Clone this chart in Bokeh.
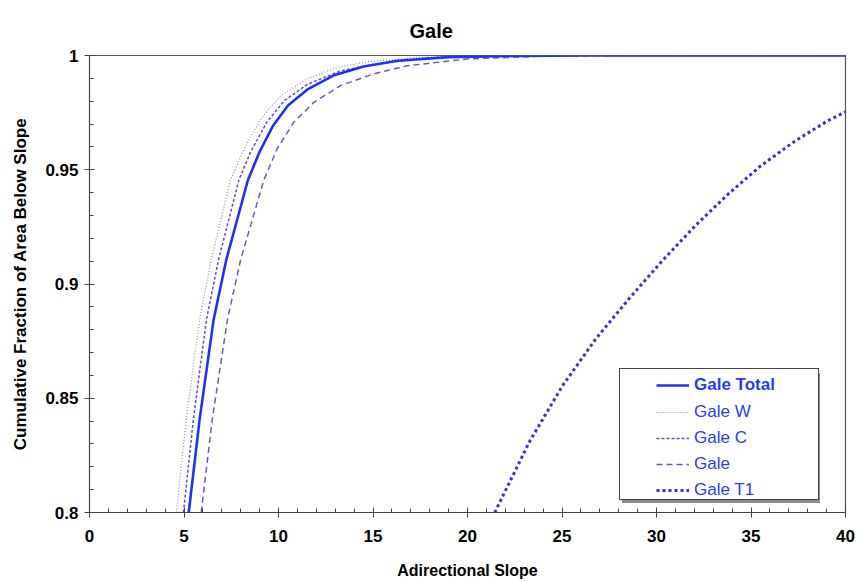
from bokeh.plotting import figure
from bokeh.models import Legend, LegendItem, Range1d, FixedTicker, CustomJSTickFormatter
from bokeh.embed import file_html
from bokeh.resources import INLINE

# ---- data ----
total_x = [5.25, 5.83, 6.57, 7.24, 8.38, 8.99, 9.72, 10.50, 11.56, 12.90, 14.50, 16.30, 19.0, 22.5, 26.0, 40.0]
total_y = [0.800, 0.841, 0.8845, 0.9107, 0.9454, 0.9577, 0.9694, 0.9781, 0.9853, 0.9912, 0.9952, 0.9977, 0.9993, 0.99985, 1.0, 1.0]

w_x = [4.60, 5.12, 5.83, 6.44, 7.46, 8.18, 9.06, 10.11, 11.50, 13.10, 14.80, 17.5, 21.0, 25.0, 40.0]
w_y = [0.800, 0.841, 0.8845, 0.9107, 0.9454, 0.9592, 0.9722, 0.9824, 0.9897, 0.9948, 0.9973, 0.9992, 0.99985, 1.0, 1.0]

c_x = [4.97, 5.50, 6.19, 6.83, 7.90, 8.52, 9.38, 10.32, 11.55, 13.30, 15.10, 18.0, 22.0, 26.0, 40.0]
c_y = [0.800, 0.841, 0.8845, 0.9107, 0.9454, 0.9577, 0.9708, 0.9803, 0.9875, 0.9933, 0.9962, 0.9990, 0.9998, 1.0, 1.0]

gale_x = [5.91, 6.50, 7.30, 8.00, 9.22, 9.93, 10.81, 11.87, 13.28, 15.00, 16.80, 20.0, 24.0, 29.0, 40.0]
gale_y = [0.800, 0.841, 0.8845, 0.9107, 0.9454, 0.9592, 0.9708, 0.9795, 0.9868, 0.9919, 0.9955, 0.9985, 0.9997, 1.0, 1.0]

t1_x = [21.44, 23.28, 25.03, 26.79, 28.54, 30.29, 32.05, 33.81, 35.56, 37.32, 39.07, 40.0]
t1_y = [0.800, 0.831, 0.8555, 0.876, 0.8935, 0.910, 0.9255, 0.9395, 0.952, 0.9625, 0.9715, 0.9753]

x_ticks = [0, 5, 10, 15, 20, 25, 30, 35, 40]
x_minor = list(range(0, 41))
y_ticks = [0.80, 0.85, 0.90, 0.95, 1.00]
y_minor = [0.80 + 0.01 * i for i in range(21)]

FONT = "Liberation Sans"
BLUE_TXT = "#2a3cf0"

p = figure(width=858, height=581, output_backend="svg", toolbar_location=None,
           x_range=Range1d(0, 40), y_range=Range1d(0.8, 1.0),
           min_border_left=89, min_border_right=13, min_border_top=55, min_border_bottom=67,
           background_fill_color="white", border_fill_color="white")

p.title.text = "Gale"
p.title.align = "left"
p.title.offset = 320
p.title.text_font = FONT
p.title.text_font_size = "20px"
p.title.text_font_style = "bold"
p.title.text_color = "black"
p.title.standoff = 28

p.grid.visible = False
p.outline_line_color = "#555555"
p.outline_line_width = 1.2

for ax in (p.xaxis[0], p.yaxis[0]):
    ax.axis_line_color = "#444444"
    ax.major_tick_line_color = "#444444"
    ax.minor_tick_line_color = "#444444"
    ax.major_tick_in = 5
    ax.major_tick_out = 5
    ax.minor_tick_in = 4
    ax.minor_tick_out = 0
    ax.major_label_text_font = FONT
    ax.major_label_text_font_style = "bold"
    ax.major_label_text_font_size = "17px"
    ax.major_label_text_color = "black"
    ax.axis_label_text_font = FONT
    ax.axis_label_text_font_style = "bold"
    ax.axis_label_text_color = "black"

p.xaxis.ticker = FixedTicker(ticks=x_ticks, minor_ticks=x_minor)
p.yaxis.ticker = FixedTicker(ticks=y_ticks, minor_ticks=y_minor)
p.yaxis.formatter = CustomJSTickFormatter(code="return Number(tick.toFixed(2)).toString();")
p.xaxis.axis_label = "Adirectional Slope"
p.yaxis.axis_label = "Cumulative Fraction of Area Below Slope"
p.xaxis.axis_label_text_font_size = "16px"
p.yaxis.axis_label_text_font_size = "17px"
p.xaxis.major_label_standoff = 12
p.xaxis.axis_label_standoff = 17
p.yaxis.major_label_standoff = 6
p.yaxis.axis_label_standoff = 12

r_w = p.line(w_x, w_y, line_color="#8a8ae8", line_width=1.2, line_dash="1 2")
r_c = p.line(c_x, c_y, line_color="#5b4fd6", line_width=1.5, line_dash="3 2")
r_g = p.line(gale_x, gale_y, line_color="#5a5ae0", line_width=1.5, line_dash="6 4")
r_tot = p.line(total_x, total_y, line_color="#1f2fff", line_width=2.6)
r_t1 = p.line(t1_x, t1_y, line_color="#3b2fd9", line_width=3, line_dash="3 3")

# invisible renderer used only to size the legend frame
r_inv = p.line(total_x, total_y, line_alpha=0)

def box_legend(loc, bg, border):
    return Legend(items=[LegendItem(label="", renderers=[r_inv])],
                  location=loc, padding=0, margin=0, spacing=0,
                  glyph_width=20, glyph_height=130, label_width=170, label_height=130,
                  label_standoff=8, label_text_alpha=0, label_text_font_size="10px",
                  background_fill_color=bg, background_fill_alpha=1,
                  border_line_color=border, border_line_width=1.5,
                  border_line_alpha=1 if border else 0)

shadow = box_legend((533, 9), "#8c8c8c", None)
frame = box_legend((530, 12), "white", "#444444")

common = dict(padding=0, margin=0, spacing=6, glyph_width=33, glyph_height=20,
              label_height=20, label_standoff=5, label_text_font=FONT,
              label_text_font_size="17px", label_text_color=BLUE_TXT,
              background_fill_alpha=0, border_line_alpha=0)

leg_b = Legend(items=[LegendItem(label="Gale Total", renderers=[r_tot])],
               location=(567, 117), label_text_font_style="bold", **common)
leg_a = Legend(items=[LegendItem(label="Gale W", renderers=[r_w]),
                      LegendItem(label="Gale C", renderers=[r_c]),
                      LegendItem(label="Gale", renderers=[r_g]),
                      LegendItem(label="Gale T1", renderers=[r_t1])],
               location=(567, 12), **common)

for lg in (shadow, frame, leg_b, leg_a):
    p.add_layout(lg, "center")

open("out.html", "w").write(file_html(p, INLINE))
